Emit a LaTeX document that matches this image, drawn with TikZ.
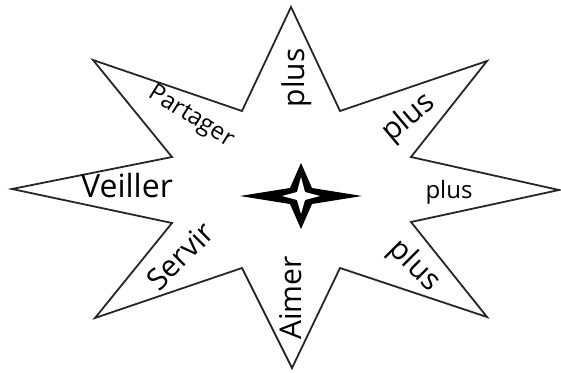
\documentclass[tikz,border=0pt]{standalone}
\usepackage{fontspec}
\setmainfont{Open Sans}
\tikzset{
  lbl/.style={font=\fontsize{30}{31}\selectfont, inner sep=0pt},
  lblsmall/.style={font=\fontsize{24}{26}\selectfont, inner sep=0pt},
  starline/.style={draw=black!85, line width=1.8pt, line join=miter}
}
\begin{document}
\begin{tikzpicture}[x=1pt,y=-1pt]
\useasboundingbox (0,0) rectangle (561,372);
% big star
\coordinate (p1) at (291,7);
\coordinate (i1) at (340,111);
\coordinate (p2) at (487,61);
\coordinate (i2) at (411,157);
\coordinate (p3) at (559,190);
\coordinate (i3) at (411,222);
\coordinate (p4) at (487,317);
\coordinate (i4) at (340,268);
\coordinate (p5) at (292,368);
\coordinate (i5) at (242,268);
\coordinate (p6) at (95,318);
\coordinate (i6) at (172,223);
\coordinate (p7) at (12,189);
\coordinate (i7) at (172,157);
\coordinate (p8) at (93,60);
\coordinate (i8) at (242,111);
\draw[starline] (p1)--(i1)--(p2)--(i2)--(p3)--(i3)--(p4)--(i4)--(p5)--(i5)--(p6)--(i6)--(p7)--(i7)--(p8)--(i8)--cycle;
% centre star
\fill[black] (240,196)--(290,188)--(301,163)--(312,188)--(362,196)--(312,204)--(301,229)--(290,204)--cycle;
\fill[white] (282,196)--(297,192)--(301,177)--(305,192)--(320,196)--(305,200)--(301,214)--(297,200)--cycle;
% labels
\node[lbl, rotate=90] (t1) at (297,78) {plus};
\node[lbl, rotate=40] (t2) at (409,118) {plus};
\node[lblsmall] (t3) at (449,192) {plus};
\node[lbl, rotate=-45] (t4) at (414,266) {plus};
\node[lbl, rotate=90] (t5) at (291,298) {Aimer};
\node[lbl, rotate=45] (t6) at (180,256) {Servir};
\node[lbl, font=\fontsize{32}{33}\selectfont] (t7) at (127,185) {Veiller};
\node[lblsmall, rotate=-32] (t8) at (191,117) {Partager};
\end{tikzpicture}
\end{document}
